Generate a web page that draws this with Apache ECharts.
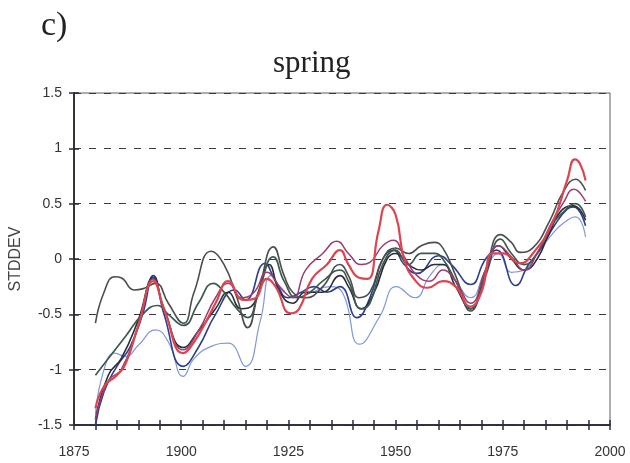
<!DOCTYPE html>
<html>
<head>
<meta charset="utf-8">
<script src="https://cdn.jsdelivr.net/npm/echarts@6/dist/echarts.min.js"></script>
<style>
  html, body { margin: 0; padding: 0; background: #ffffff; }
  #chart { width: 630px; height: 463px; }
</style>
</head>
<body>
<div id="chart"></div>
<script>
// Smoothed spring anomaly curves, [year, standard deviations]
const redCurve = [[1880,-1.35],[1882,-1.15],[1885,-1.05],[1887,-0.95],[1890,-0.6],[1893.5,-0.2],[1896,-0.45],[1900.5,-0.85],[1903,-0.75],[1906,-0.55],[1908,-0.4],[1911,-0.2],[1914.5,-0.37],[1917,-0.36],[1920,-0.18],[1922,-0.25],[1925.5,-0.49],[1927.5,-0.45],[1930.5,-0.18],[1934,-0.05],[1937,0.08],[1939,-0.05],[1941.5,-0.17],[1943.5,-0.18],[1946,0.25],[1948,0.49],[1950,0.4],[1952,0.0],[1954.5,-0.19],[1957.5,-0.26],[1961,-0.2],[1964,-0.25],[1967.5,-0.43],[1970,-0.3],[1972.7,0.05],[1975,0.05],[1979,-0.04],[1982,0.05],[1986.5,0.32],[1990,0.71],[1991.8,0.9],[1993,0.86],[1994.3,0.71]];
const purpleCurve = [[1880,-1.45],[1883,-1.1],[1886,-1.0],[1890,-0.6],[1893.5,-0.18],[1896,-0.45],[1900.5,-0.82],[1904,-0.65],[1908,-0.35],[1911,-0.22],[1914,-0.35],[1917,-0.3],[1920,-0.12],[1923,-0.25],[1926,-0.35],[1929,-0.1],[1933,0.05],[1936.3,0.16],[1939,0.05],[1942,-0.05],[1944,-0.03],[1947,0.12],[1949.5,0.17],[1952,0.02],[1955,-0.15],[1958,-0.2],[1961,-0.1],[1964,-0.2],[1967.5,-0.4],[1971,-0.1],[1974,0.12],[1977,0.02],[1980,-0.1],[1983,0.05],[1986,0.3],[1989,0.5],[1991.6,0.63],[1994.3,0.52]];
const grayCurve = [[1880,-0.58],[1882,-0.3],[1884.5,-0.16],[1886,-0.17],[1889,-0.28],[1891,-0.27],[1894,-0.22],[1897,-0.4],[1900.5,-0.58],[1903,-0.3],[1907,0.07],[1910,-0.05],[1913,-0.35],[1915.5,-0.62],[1918,-0.3],[1921.5,0.11],[1924,-0.15],[1926,-0.3],[1929,-0.35],[1933,-0.25],[1937,-0.05],[1939,-0.15],[1941.5,-0.35],[1944,-0.3],[1947,0.0],[1950,0.1],[1953,0.05],[1956,0.12],[1959,0.15],[1961,0.1],[1964,-0.15],[1967.5,-0.47],[1971,-0.1],[1974.5,0.22],[1977,0.15],[1979,0.06],[1982,0.1],[1986,0.35],[1989,0.6],[1992,0.72],[1994.3,0.62]];
const greenCurve = [[1880,-1.05],[1883,-0.9],[1887,-0.7],[1891,-0.5],[1894.5,-0.42],[1897,-0.5],[1900.5,-0.6],[1904,-0.4],[1907.5,-0.22],[1910,-0.3],[1913,-0.45],[1915.5,-0.53],[1918,-0.3],[1921.5,0.02],[1924,-0.2],[1927,-0.35],[1930,-0.3],[1933,-0.2],[1937,-0.1],[1939,-0.2],[1942,-0.45],[1944,-0.4],[1947,-0.05],[1950,0.08],[1953,-0.05],[1956,0.05],[1959,0.05],[1961,0.0],[1964,-0.2],[1967.5,-0.45],[1971,-0.15],[1974.5,0.18],[1977,0.05],[1980,-0.05],[1983,0.05],[1986,0.28],[1989,0.42],[1992,0.5],[1994.3,0.38]];
const blackCurve = [[1880,-1.45],[1883,-1.05],[1886,-0.9],[1890,-0.55],[1893.5,-0.17],[1896,-0.45],[1900.5,-0.8],[1904,-0.65],[1908,-0.45],[1911,-0.3],[1914,-0.45],[1917,-0.4],[1920.5,-0.05],[1923,-0.3],[1926,-0.4],[1929,-0.3],[1933,-0.3],[1937,-0.15],[1939,-0.25],[1942,-0.45],[1945,-0.3],[1948,0.0],[1950,0.05],[1953,-0.05],[1956,-0.1],[1959,-0.05],[1961,-0.05],[1964,-0.25],[1967.5,-0.45],[1971,-0.1],[1974,0.12],[1977,0.0],[1980,-0.1],[1983,0.0],[1986,0.25],[1989,0.45],[1991.5,0.48],[1994.3,0.35]];
const blueCurve = [[1880,-1.5],[1882,-1.2],[1885,-0.97],[1888,-0.8],[1891,-0.5],[1893.5,-0.15],[1896,-0.5],[1900.5,-0.97],[1904,-0.8],[1908,-0.5],[1912.5,-0.28],[1915,-0.37],[1919.5,-0.04],[1922,-0.2],[1925,-0.35],[1928,-0.3],[1931,-0.25],[1934,-0.3],[1937,-0.25],[1941,-0.53],[1944,-0.35],[1947,0.0],[1949.5,0.08],[1952,-0.05],[1955,-0.13],[1960,0.03],[1963,-0.05],[1967.5,-0.23],[1971,0.0],[1973.5,0.08],[1978,-0.24],[1981,-0.05],[1984,0.1],[1987,0.3],[1990,0.45],[1991.5,0.47],[1994.3,0.3]];
const lightBlueCurve = [[1880,-1.4],[1882,-1.0],[1884.5,-0.85],[1887,-0.88],[1890,-0.78],[1894,-0.64],[1897,-0.75],[1900.5,-1.06],[1903,-0.9],[1907,-0.79],[1911,-0.76],[1915,-0.97],[1918.5,-0.55],[1921,-0.15],[1924,-0.3],[1927,-0.35],[1930,-0.31],[1934.6,-0.25],[1937.7,-0.31],[1941.6,-0.77],[1946.3,-0.52],[1950.2,-0.25],[1954.5,-0.35],[1958,-0.15],[1961,-0.05],[1964,-0.2],[1967.5,-0.35],[1971,-0.1],[1974,0.05],[1977,-0.12],[1980,-0.1],[1983,0.05],[1986,0.2],[1989,0.32],[1992,0.38],[1994.3,0.2]];

// Axis settings
const yearMin = 1875, yearMax = 2000, yearStep = 5, yearLabelStep = 25;
const sdMin = -1.5, sdMax = 1.5, sdStep = 0.5;

const curves = [
  { data: lightBlueCurve, color: '#8197d6', width: 1.2 },
  { data: blueCurve, color: '#2c3e8e', width: 1.6 },
  { data: blackCurve, color: '#2a2d36', width: 1.6 },
  { data: greenCurve, color: '#3d5a4c', width: 1.7 },
  { data: grayCurve, color: '#4a4e4e', width: 1.6 },
  { data: purpleCurve, color: '#9b3d72', width: 1.5 },
  { data: redCurve, color: '#dc4550', width: 2.2 }
];

const chart = echarts.init(document.getElementById('chart'), null, { renderer: 'canvas' });

const axisFont = { fontFamily: 'Liberation Sans, Arial, sans-serif', fontSize: 14, color: '#333' };
const axisInk = '#2b2b3a';

// Each axis is drawn twice: once with outward ticks and labels, once with inward ticks,
// so every tick mark crosses the axis line.
function xAxisCfg(inside, labels) {
  return {
    type: 'value', min: yearMin, max: yearMax, interval: yearStep,
    position: 'bottom',
    axisLine: { show: true, onZero: false, lineStyle: { color: axisInk, width: 1.5 } },
    axisTick: { show: true, inside: inside, length: 5, lineStyle: { color: axisInk, width: 1.5 } },
    axisLabel: {
      show: labels, margin: 20, ...axisFont,
      formatter: v => (Math.round(v) % yearLabelStep === 0 ? String(Math.round(v)) : '')
    },
    splitLine: { show: false }
  };
}

function yAxisCfg(inside, labels) {
  return {
    type: 'value', min: sdMin, max: sdMax, interval: sdStep,
    position: 'left',
    name: labels ? 'STDDEV' : '',
    nameLocation: 'middle', nameGap: 50, nameRotate: 90,
    nameTextStyle: { fontFamily: 'Liberation Sans, Arial, sans-serif', fontSize: 16, color: '#444' },
    axisLine: { show: true, onZero: false, lineStyle: { color: axisInk, width: 1.5 } },
    axisTick: { show: true, inside: inside, length: 5, lineStyle: { color: axisInk, width: 1.5 } },
    axisLabel: { show: labels, margin: 12, ...axisFont, formatter: v => String(+v.toFixed(1)) },
    splitLine: labels ? { show: true, lineStyle: { color: '#3a3a44', width: 1.2, type: [7, 8] } } : { show: false }
  };
}

chart.setOption({
  animation: false,
  backgroundColor: '#ffffff',
  title: [
    { text: 'c)', left: 36, top: 4, textStyle: { fontFamily: 'Liberation Serif, Times New Roman, serif', fontSize: 34, fontWeight: 'normal', color: '#222' } },
    { text: 'spring', left: 268, top: 43, textStyle: { fontFamily: 'Liberation Serif, Times New Roman, serif', fontSize: 31, fontWeight: 'normal', color: '#222' } }
  ],
  grid: {
    left: 74, top: 93, width: 536, height: 332,
    show: true, borderColor: '#5a5a68', borderWidth: 1,
    outerBoundsMode: 'none'
  },
  xAxis: [xAxisCfg(false, true), xAxisCfg(true, false)],
  yAxis: [yAxisCfg(false, true), yAxisCfg(true, false)],
  series: curves.map(c => ({
    type: 'line',
    xAxisIndex: 0, yAxisIndex: 0,
    data: c.data,
    smooth: 0.5,
    showSymbol: false,
    lineStyle: { color: c.color, width: c.width },
    z: 3
  }))
});
</script>
</body>
</html>
